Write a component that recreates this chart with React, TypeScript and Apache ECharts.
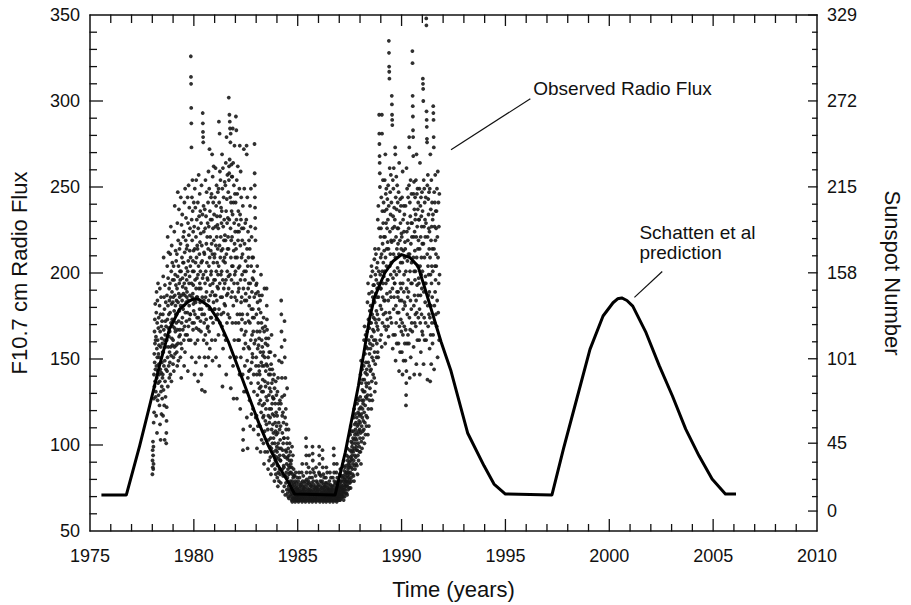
import React, { useEffect, useRef } from "react";
import * as echarts from "echarts";

// ---------- axes ----------
const X_MIN = 1975;
const X_MAX = 2010;
const X_INTERVAL = 5;
const X_MINOR = 1;
const FLUX_MIN = 50;
const FLUX_MAX = 350;
const FLUX_INTERVAL = 50;
const FLUX_MINOR = 10;
const SUNSPOT_TICKS = [0, 45, 101, 158, 215, 272, 329];
const SUNSPOT_ZERO_FLUX = 61.6;
const SUNSPOT_TOP = 329;

// ---------- observed daily radio flux (2-month bins) ----------
const OBS_START_YEAR = 1978;
const OBS_1978 = [
  [83, 91, 97, 87, 102, 94, 86, 99, 89, 113, 127, 141, 119, 153, 134, 166, 148, 173, 159, 137, 182, 144, 161, 128],
  [131, 163, 117, 177, 146, 189, 139, 156, 107, 171, 151, 184, 126, 161, 143, 194, 136, 168, 153, 129, 174, 147, 158, 141],
  [151, 123, 181, 137, 191, 112, 166, 144, 176, 103, 157, 131, 186, 142, 169, 118, 162, 134, 148, 172, 127, 159, 139, 154],
  [141, 176, 117, 198, 154, 132, 209, 167, 146, 186, 123, 161, 179, 103, 149, 193, 137, 164, 172, 128, 157, 183, 144, 169],
  [101, 107, 114, 122, 161, 187, 143, 204, 173, 151, 221, 134, 181, 197, 157, 168, 212, 146, 176, 163, 191, 139, 184, 154],
  [166, 148, 194, 177, 211, 141, 186, 157, 227, 171, 152, 201, 137, 182, 216, 162, 189, 173, 206, 158, 196, 169, 183, 147],
];
const OBS_1979 = [
  [161, 186, 151, 204, 172, 143, 196, 178, 224, 157, 168, 239, 187, 153, 199, 166, 181, 213, 176, 193, 158, 207, 171, 184],
  [176, 154, 211, 191, 146, 229, 167, 198, 247, 159, 183, 219, 149, 204, 172, 188, 237, 163, 194, 178, 214, 186, 167, 201],
  [164, 196, 151, 217, 181, 244, 159, 201, 139, 187, 228, 171, 156, 209, 184, 234, 174, 197, 192, 167, 206, 179, 221, 188],
  [181, 206, 161, 224, 146, 194, 241, 169, 212, 187, 154, 249, 177, 199, 164, 219, 191, 232, 183, 203, 172, 214, 196, 186],
  [189, 164, 216, 177, 244, 201, 143, 229, 184, 207, 169, 251, 161, 222, 194, 181, 238, 173, 198, 213, 187, 226, 176, 204],
  [176, 209, 161, 326, 314, 310, 296, 287, 273, 194, 231, 151, 244, 186, 219, 171, 254, 201, 236, 188, 207, 167, 224, 193, 182, 213, 178, 241],
];
const OBS_1980 = [
  [201, 171, 227, 184, 141, 214, 249, 176, 196, 159, 238, 206, 183, 148, 221, 191, 254, 168, 209, 186, 231, 197, 174, 216],
  [186, 214, 161, 241, 199, 137, 226, 174, 204, 257, 167, 191, 233, 151, 211, 179, 246, 194, 218, 183, 236, 201, 172, 223],
  [191, 166, 229, 206, 141, 251, 179, 216, 132, 176, 207, 186, 234, 197, 293, 287, 282, 279, 276, 199, 239, 161, 224, 184, 212, 171],
  [176, 211, 151, 237, 131, 194, 226, 164, 254, 186, 201, 146, 233, 173, 217, 189, 247, 159, 206, 181, 221, 197, 168, 229],
  [196, 169, 241, 214, 151, 259, 184, 227, 204, 166, 249, 179, 272, 209, 156, 236, 193, 221, 187, 231, 174, 213, 199, 244],
  [201, 174, 246, 217, 161, 231, 269, 189, 211, 149, 256, 194, 226, 171, 241, 206, 183, 262, 219, 196, 234, 179, 209, 187],
];
const OBS_1981 = [
  [211, 179, 244, 196, 161, 227, 261, 187, 216, 151, 239, 201, 173, 251, 221, 184, 233, 206, 192, 228, 176, 214, 247, 199],
  [191, 226, 164, 249, 204, 288, 179, 241, 146, 216, 281, 194, 259, 171, 233, 209, 254, 186, 221, 199, 238, 176, 213, 229],
  [201, 236, 169, 269, 186, 249, 134, 214, 196, 261, 156, 227, 207, 177, 244, 191, 219, 164, 231, 182, 209, 253, 194, 222],
  [206, 181, 251, 219, 161, 264, 196, 236, 141, 211, 279, 187, 243, 171, 229, 201, 257, 214, 188, 232, 176, 221, 247, 198],
  [214, 191, 302, 254, 262, 258, 231, 292, 174, 266, 288, 199, 284, 151, 244, 276, 226, 281, 133, 209, 241, 186, 219, 263, 196, 236, 256, 204],
  [221, 189, 256, 171, 234, 284, 204, 146, 264, 181, 241, 127, 213, 251, 194, 229, 161, 274, 217, 199, 246, 186, 224, 209],
];
const OBS_1982 = [
  [201, 241, 171, 291, 214, 151, 283, 231, 184, 254, 127, 209, 246, 176, 224, 194, 262, 161, 219, 189, 236, 203, 171, 228],
  [191, 224, 161, 249, 141, 204, 274, 176, 234, 121, 216, 196, 259, 151, 231, 183, 244, 167, 209, 186, 226, 173, 199, 219],
  [176, 211, 141, 239, 97, 103, 109, 191, 226, 156, 272, 131, 201, 249, 164, 217, 184, 146, 196, 171, 229, 159, 207, 188],
  [166, 201, 131, 231, 184, 274, 269, 116, 214, 149, 244, 176, 98, 204, 139, 224, 191, 157, 209, 172, 194, 143, 219, 181],
  [156, 186, 126, 214, 171, 239, 111, 194, 144, 227, 161, 249, 136, 204, 179, 118, 221, 148, 189, 164, 209, 153, 197, 174],
  [151, 179, 121, 209, 166, 196, 109, 141, 201, 131, 174, 186, 159, 275, 258, 251, 244, 238, 232, 226, 219, 161, 116, 188, 146, 193],
];
const OBS_1983 = [
  [151, 176, 117, 194, 141, 98, 166, 204, 129, 183, 156, 111, 189, 136, 171, 106, 158, 146, 179, 124, 162, 143, 187, 133],
  [141, 166, 111, 184, 126, 154, 96, 177, 134, 199, 119, 148, 171, 103, 161, 131, 187, 146, 157, 123, 168, 138, 152, 116],
  [131, 154, 101, 174, 117, 146, 89, 166, 124, 191, 108, 151, 137, 96, 169, 114, 159, 134, 143, 121, 162, 128, 147, 112],
  [191, 181, 173, 167, 126, 146, 96, 158, 109, 136, 86, 151, 117, 162, 103, 141, 129, 91, 154, 113, 121, 133, 144, 99],
  [116, 141, 93, 154, 104, 131, 83, 147, 121, 98, 164, 109, 136, 88, 124, 144, 101, 118, 128, 112, 138, 96, 127, 107],
  [104, 127, 89, 141, 94, 117, 79, 133, 101, 152, 86, 113, 124, 91, 108, 137, 83, 97, 119, 106, 129, 93, 111, 99],
];
const OBS_1984 = [
  [96, 117, 81, 131, 88, 107, 76, 139, 101, 84, 124, 92, 113, 79, 149, 98, 121, 86, 109, 94, 126, 83, 103, 91],
  [91, 111, 78, 124, 98, 184, 176, 166, 157, 148, 139, 128, 117, 107, 86, 97, 73, 119, 82, 101, 94, 113, 88, 104],
  [87, 104, 76, 129, 172, 161, 151, 93, 116, 71, 139, 82, 97, 121, 78, 109, 84, 96, 112, 89, 74, 101, 133, 92],
  [81, 93, 72, 104, 86, 70, 98, 76, 109, 88, 69, 83, 94, 74, 91, 78, 101, 84, 73, 87, 96, 79, 71, 89],
  [74, 84, 70, 91, 77, 68, 87, 72, 99, 79, 67, 76, 83, 69, 94, 73, 81, 71, 78, 86, 69, 75, 72, 82],
  [72, 77, 68, 82, 70, 74, 67, 79, 73, 69, 84, 71, 76, 68, 78, 70, 73, 72, 75, 69, 81, 71, 68, 74],
];
const OBS_1985 = [
  [69, 74, 68, 79, 71, 67, 77, 70, 84, 69, 73, 68, 81, 70, 75, 72, 69, 73, 71, 76, 68, 72, 70, 78],
  [72, 77, 68, 84, 70, 74, 67, 89, 73, 69, 79, 71, 76, 68, 82, 70, 74, 72, 69, 75, 71, 78, 68, 73],
  [70, 76, 68, 79, 72, 67, 74, 69, 71, 104, 99, 94, 89, 84, 80, 71, 77, 68, 73, 70, 75, 69, 72, 78],
  [72, 79, 68, 87, 70, 74, 67, 94, 73, 69, 81, 71, 77, 68, 84, 70, 74, 72, 76, 69, 71, 78, 68, 73],
  [70, 76, 68, 81, 72, 67, 99, 95, 91, 86, 74, 69, 79, 71, 77, 68, 84, 70, 73, 72, 69, 75, 71, 68],
  [71, 76, 68, 82, 70, 74, 67, 87, 72, 69, 79, 70, 75, 68, 78, 71, 73, 69, 72, 76, 70, 74, 68, 71],
];
const OBS_1986 = [
  [70, 77, 68, 84, 99, 94, 89, 83, 72, 67, 74, 69, 79, 71, 76, 68, 82, 70, 73, 72, 69, 75, 71, 78],
  [72, 79, 68, 97, 92, 87, 70, 75, 67, 83, 73, 69, 77, 71, 68, 81, 74, 70, 72, 76, 69, 73, 71, 78],
  [70, 76, 68, 81, 72, 67, 87, 74, 69, 78, 71, 68, 84, 70, 75, 72, 69, 73, 71, 77, 68, 74, 70, 72],
  [71, 75, 68, 79, 70, 73, 67, 84, 72, 69, 77, 70, 74, 68, 81, 71, 73, 69, 72, 76, 70, 74, 68, 71],
  [70, 76, 68, 81, 72, 67, 74, 69, 71, 98, 94, 89, 84, 79, 71, 77, 68, 73, 70, 75, 69, 72, 78, 71],
  [72, 78, 68, 84, 70, 75, 67, 89, 73, 69, 81, 71, 77, 68, 79, 74, 70, 76, 72, 69, 73, 71, 75, 68],
];
const OBS_1987 = [
  [73, 78, 69, 83, 71, 76, 68, 86, 74, 70, 79, 72, 77, 69, 82, 75, 71, 79, 73, 76, 70, 74, 72, 81],
  [75, 82, 70, 88, 73, 79, 68, 91, 77, 72, 85, 74, 80, 70, 87, 76, 83, 78, 74, 81, 72, 79, 76, 84],
  [79, 88, 72, 94, 77, 84, 71, 98, 82, 76, 91, 79, 86, 74, 93, 81, 89, 84, 78, 87, 75, 83, 80, 90],
  [88, 97, 78, 106, 84, 93, 75, 111, 91, 81, 102, 87, 96, 79, 108, 92, 99, 94, 86, 101, 83, 97, 89, 104],
  [96, 108, 82, 116, 91, 103, 79, 121, 98, 88, 112, 94, 106, 86, 118, 101, 109, 104, 93, 113, 89, 99, 107, 97],
  [103, 116, 88, 124, 97, 111, 83, 127, 106, 94, 119, 101, 112, 91, 126, 108, 118, 114, 99, 121, 96, 109, 117, 104],
];
const OBS_1988 = [
  [113, 128, 96, 141, 107, 122, 89, 149, 118, 102, 136, 111, 126, 98, 144, 116, 132, 121, 108, 138, 104, 124, 114, 131],
  [126, 146, 109, 161, 119, 138, 101, 169, 131, 113, 153, 123, 142, 106, 164, 128, 148, 136, 117, 157, 111, 134, 144, 127],
  [141, 166, 116, 183, 129, 156, 106, 194, 148, 121, 173, 136, 161, 111, 188, 146, 168, 153, 126, 178, 133, 159, 171, 143],
  [156, 181, 129, 198, 144, 171, 121, 204, 163, 137, 189, 151, 176, 126, 201, 158, 186, 167, 141, 193, 149, 174, 184, 161],
  [166, 193, 139, 208, 154, 183, 131, 214, 173, 147, 199, 161, 188, 136, 211, 171, 196, 178, 151, 203, 159, 186, 191, 169],
  [176, 206, 154, 231, 167, 194, 151, 239, 186, 214, 201, 173, 226, 292, 281, 275, 268, 264, 258, 250, 161, 199, 181, 221, 191, 209],
];
const OBS_1989 = [
  [191, 226, 164, 244, 179, 211, 157, 292, 281, 201, 236, 171, 217, 186, 254, 194, 229, 206, 176, 241, 198, 221, 184, 213],
  [201, 236, 169, 254, 184, 221, 159, 269, 209, 177, 246, 194, 229, 167, 249, 204, 237, 214, 188, 226, 173, 243, 196, 218],
  [196, 231, 169, 251, 184, 214, 163, 239, 335, 328, 320, 317, 313, 177, 261, 204, 224, 189, 247, 211, 174, 234, 199, 257, 186, 219],
  [206, 241, 171, 218, 303, 298, 292, 289, 286, 191, 226, 156, 254, 197, 233, 164, 249, 211, 179, 261, 219, 186, 238, 201, 227, 194],
  [194, 231, 164, 273, 269, 209, 149, 244, 181, 221, 171, 256, 199, 237, 159, 214, 189, 251, 177, 226, 203, 241, 186, 217],
  [189, 226, 159, 247, 177, 211, 143, 264, 201, 169, 236, 184, 219, 154, 243, 194, 229, 206, 173, 239, 191, 214, 166, 223],
];
const OBS_1990 = [
  [184, 221, 154, 244, 171, 206, 141, 259, 194, 164, 231, 179, 213, 149, 239, 189, 224, 199, 169, 234, 183, 209, 159, 218],
  [181, 214, 149, 239, 167, 201, 123, 129, 136, 143, 261, 191, 224, 159, 249, 176, 207, 229, 186, 219, 164, 244, 196, 211],
  [189, 226, 159, 251, 279, 273, 174, 211, 139, 241, 201, 167, 233, 184, 254, 151, 217, 194, 229, 179, 246, 206, 171, 221],
  [194, 229, 166, 329, 322, 303, 297, 291, 283, 279, 268, 209, 246, 157, 221, 181, 253, 201, 141, 237, 187, 224, 171, 213, 196, 244, 231, 176],
  [201, 234, 169, 254, 184, 221, 147, 269, 209, 177, 246, 193, 227, 161, 249, 204, 237, 214, 187, 241, 174, 219, 197, 231],
  [194, 231, 161, 249, 179, 214, 141, 264, 204, 171, 239, 187, 221, 154, 244, 199, 233, 209, 176, 227, 191, 247, 166, 217],
];
const OBS_1991 = [
  [201, 236, 164, 313, 310, 307, 300, 217, 147, 254, 189, 227, 174, 249, 209, 161, 241, 194, 231, 183, 221, 198, 171, 244],
  [194, 229, 161, 348, 344, 294, 289, 285, 278, 276, 211, 251, 138, 221, 181, 257, 204, 169, 243, 187, 234, 199, 226, 176, 247, 214],
  [189, 224, 156, 249, 174, 209, 137, 269, 199, 164, 237, 181, 219, 147, 254, 194, 227, 204, 171, 241, 186, 214, 159, 231],
  [201, 234, 164, 297, 293, 289, 279, 273, 214, 144, 247, 181, 227, 171, 241, 204, 189, 257, 219, 196, 236, 176, 211, 226],
  [204, 236, 169, 249, 184, 221, 151, 259, 209, 177, 241, 194, 227, 161, 246, 199],
];
const OBSERVED = [
  OBS_1978, OBS_1979, OBS_1980, OBS_1981, OBS_1982, OBS_1983, OBS_1984,
  OBS_1985, OBS_1986, OBS_1987, OBS_1988, OBS_1989, OBS_1990, OBS_1991,
];
const BINS_PER_YEAR = 6;

// ---------- Schatten et al prediction ----------
const PRED_YEARS = [
  1975.55, 1976.75, 1977.39, 1977.87, 1978.34, 1978.82, 1979.3, 1979.77, 1980.0, 1980.25,
  1980.73, 1981.21, 1981.68, 1982.16, 1982.64, 1983.12, 1983.59, 1984.07, 1984.55, 1984.85,
  1986.8, 1987.29, 1987.92, 1988.45, 1988.7, 1989.19, 1989.6, 1990.0, 1990.4, 1990.79,
  1991.1, 1991.43, 1991.9, 1992.38, 1993.18, 1993.97, 1994.45, 1995.0, 1997.24, 1997.79,
  1998.43, 1999.07, 1999.7, 2000.18, 2000.4, 2000.6, 2000.85, 2001.13, 2001.77, 2002.41,
  2003.04, 2003.68, 2004.32, 2004.95, 2005.59, 2006.1,
];
const PRED_FLUX = [
  71, 71, 99.5, 122.7, 145.9, 167.2, 178.8, 183.6, 185, 184.6,
  180.7, 172, 159.5, 144, 128.5, 113, 99.5, 87.9, 78.3, 71.5,
  71, 95.7, 134.3, 173, 186, 200, 207, 210.7, 209, 204,
  192, 178.8, 160, 143, 107, 87.9, 77.3, 71.5, 71, 97.6,
  126.6, 155.6, 175, 182.7, 185, 185.5, 184, 180.7, 165.3, 146,
  128.5, 109.2, 93.7, 80.2, 71.5, 71.5,
];

// ---------- annotations (data coordinates) ----------
const OBS_NOTE = { text: "Observed Radio Flux", at: [1996.34, 307], from: [1992.38, 271.7], to: [1996.2, 301.3] };
const PRED_NOTE = { text: "Schatten et al\nprediction", at: [2001.45, 217.7], from: [2002.55, 200.9], to: [2001.21, 185.8] };

const FONT = "'Liberation Sans', Arial, Helvetica, sans-serif";
const INK = "#111";
// tick lengths (px) per side: [major, minor]; sides 0 bottom, 1 top, 2 left, 3 right
const TICK_LEN = [[12, 7], [11, 8], [13, 7], [9, 5]];

function buildObserved(): number[][] {
  const pts: number[][] = [];
  OBSERVED.forEach((bins, yi) => {
    const year = OBS_START_YEAR + yi;
    bins.forEach((bin, bi) => {
      bin.forEach((v, j) => {
        pts.push([year + (bi + (j + 0.5) / bin.length) / BINS_PER_YEAR, v]);
      });
    });
  });
  return pts;
}

const fluxToSunspot = (f: number) => ((f - SUNSPOT_ZERO_FLUX) * SUNSPOT_TOP) / (FLUX_MAX - SUNSPOT_ZERO_FLUX);
const sunspotToFlux = (s: number) => SUNSPOT_ZERO_FLUX + (s * (FLUX_MAX - SUNSPOT_ZERO_FLUX)) / SUNSPOT_TOP;

// tick marks per side: [value, isMajor]
function buildTicks(): number[][][] {
  const sides: number[][][] = [[], [], [], []];
  for (let yr = X_MIN + X_MINOR; yr < X_MAX; yr += X_MINOR) {
    const major = (yr - X_MIN) % X_INTERVAL === 0 ? 1 : 0;
    sides[0].push([yr, major]);
    sides[1].push([yr, major]);
  }
  for (let f = FLUX_MIN + FLUX_MINOR; f < FLUX_MAX; f += FLUX_MINOR) {
    sides[2].push([f, (f - FLUX_MIN) % FLUX_INTERVAL === 0 ? 1 : 0]);
  }
  SUNSPOT_TICKS.forEach((s) => sides[3].push([sunspotToFlux(s), 1]));
  for (let f = FLUX_MIN + 2 * FLUX_MINOR; f < FLUX_MAX; f += FLUX_MINOR) {
    if ((f - FLUX_MIN) % FLUX_INTERVAL !== 0) sides[3].push([f, 0]);
  }
  return sides;
}

export default function App() {
  const ref = useRef<HTMLDivElement>(null);
  useEffect(() => {
    if (!ref.current) return;
    const chart = echarts.init(ref.current, null, { renderer: "svg" });
    const label = { color: INK, fontSize: 18, fontFamily: FONT };
    const nameStyle = { color: INK, fontSize: 22, fontFamily: FONT };
    const line = () => ({ show: true, lineStyle: { color: INK, width: 1.5 } });
    const noTick = { show: false };
    chart.setOption({
      animation: false,
      backgroundColor: "#fff",
      grid: { left: 86, right: 92, top: 15, bottom: 73 },
      xAxis: [
        {
          type: "value", min: X_MIN, max: X_MAX, interval: X_INTERVAL, position: "bottom",
          axisLine: line(), splitLine: { show: false }, axisTick: noTick, minorTick: noTick,
          axisLabel: { ...label, margin: 16, formatter: (v: number) => String(v) },
          name: "Time (years)", nameLocation: "middle", nameGap: 47, nameTextStyle: nameStyle,
        },
        {
          type: "value", min: X_MIN, max: X_MAX, interval: X_INTERVAL, position: "top",
          axisLine: line(), splitLine: { show: false }, axisTick: noTick, minorTick: noTick,
          axisLabel: { show: false },
        },
      ],
      yAxis: [
        {
          type: "value", min: FLUX_MIN, max: FLUX_MAX, interval: FLUX_INTERVAL, position: "left",
          axisLine: line(), splitLine: { show: false }, axisTick: noTick, minorTick: noTick,
          axisLabel: { ...label, margin: 10, formatter: (v: number) => String(v) },
          name: "F10.7 cm Radio Flux", nameLocation: "middle", nameGap: 60, nameTextStyle: nameStyle,
        },
        {
          type: "value", min: FLUX_MIN, max: FLUX_MAX, interval: FLUX_INTERVAL, position: "right",
          axisLine: line(), splitLine: { show: false }, axisTick: noTick, minorTick: noTick,
          axisLabel: {
            ...label, margin: 10,
            customValues: SUNSPOT_TICKS.map(sunspotToFlux),
            formatter: (v: number) => String(Math.round(fluxToSunspot(v))),
          },
          name: "Sunspot Number", nameLocation: "middle", nameGap: 64, nameRotate: -90, nameTextStyle: nameStyle,
        },
      ],
      series: [
        {
          type: "scatter", xAxisIndex: 0, yAxisIndex: 0, data: buildObserved(),
          symbol: "circle", symbolSize: 3.8, itemStyle: { color: "#1a1a1a", opacity: 0.9 },
          silent: true, z: 2,
        },
        {
          type: "line", xAxisIndex: 0, yAxisIndex: 0,
          data: PRED_YEARS.map((x, i) => [x, PRED_FLUX[i]]),
          showSymbol: false, symbol: "none", smooth: false,
          lineStyle: { color: "#000", width: 3, join: "round" }, z: 3,
        },
      ],
    });

    const px = (p: number[]) => chart.convertToPixel({ xAxisIndex: 0, yAxisIndex: 0 }, p) as number[];
    const xa = X_MIN + X_INTERVAL, xb = X_MAX - X_INTERVAL;
    const ya = FLUX_MIN + FLUX_INTERVAL, yb = FLUX_MAX - FLUX_INTERVAL;
    const pa = px([xa, ya]), pb = px([xb, yb]);
    const X = (v: number) => pa[0] + ((v - xa) * (pb[0] - pa[0])) / (xb - xa);
    const Y = (v: number) => pa[1] + ((v - ya) * (pb[1] - pa[1])) / (yb - ya);
    const left = X(X_MIN), right = X(X_MAX), top = Y(FLUX_MAX), bottom = Y(FLUX_MIN);

    const ticks: any[] = [];
    buildTicks().forEach((list, side) => {
      list.forEach(([v, major]) => {
        const len = TICK_LEN[side][major ? 0 : 1];
        let shape;
        if (side === 0) shape = { x1: X(v), y1: bottom + 0.5, x2: X(v), y2: bottom - len };
        else if (side === 1) shape = { x1: X(v), y1: top - 0.5, x2: X(v), y2: top + len };
        else if (side === 2) shape = { x1: left - 0.5, y1: Y(v), x2: left + len, y2: Y(v) };
        else shape = { x1: right + 0.5, y1: Y(v), x2: right - len, y2: Y(v) };
        ticks.push({ type: "line", shape, style: { stroke: INK, lineWidth: 1.3 }, zlevel: 1, z: 1000 });
      });
    });
    const note = (n: typeof OBS_NOTE) => {
      const a = px(n.at), f = px(n.from), t = px(n.to);
      return [
        { type: "line", shape: { x1: f[0], y1: f[1], x2: t[0], y2: t[1] }, style: { stroke: INK, lineWidth: 1.2 }, z: 10 },
        {
          type: "text", x: a[0], y: a[1], z: 10,
          style: { text: n.text, fill: INK, font: `19px ${FONT}`, align: "left", verticalAlign: "middle", lineHeight: 20 },
        },
      ];
    };
    chart.setOption({ graphic: [...ticks, ...note(OBS_NOTE), ...note(PRED_NOTE)] });

    return () => chart.dispose();
  }, []);
  return <div ref={ref} style={{ position: "fixed", left: 0, top: 0, width: 911, height: 605, background: "#fff" }} />;
}
